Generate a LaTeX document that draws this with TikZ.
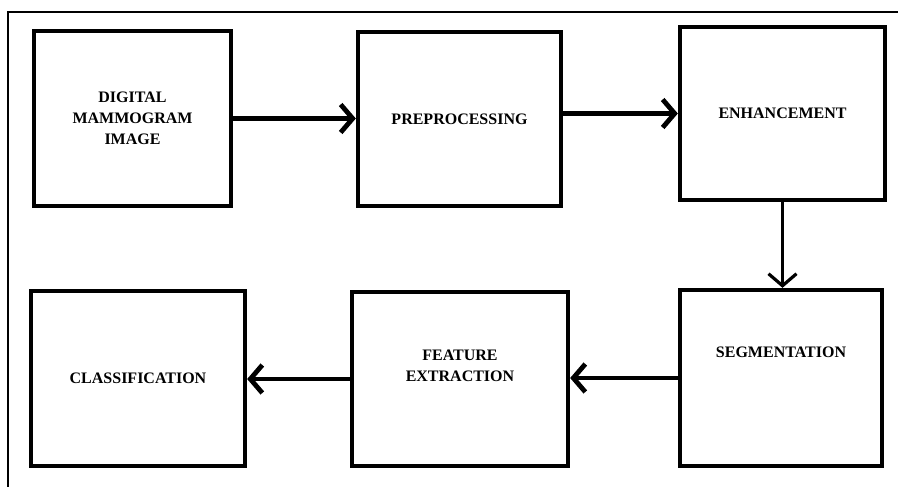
\documentclass[tikz,border=0pt]{standalone}
\usepackage{fontspec}
\setmainfont{Liberation Serif}
\usetikzlibrary{arrows.meta, positioning, calc}

\begin{document}
\begin{tikzpicture}[
    x=1pt, y=-1pt,
    stage/.style={rectangle, draw=black, line width=4.3pt, align=center, font=\fontsize{16}{21}\selectfont\bfseries, inner sep=0pt},
    arrow/.style={-{Straight Barb[length=12pt, width=28pt]}, line width=4.8pt},
    frameline/.style={line width=1.6pt}
]
\useasboundingbox (0,0) rectangle (898,487);

% Frame
\draw[frameline] (8,487) -- (8,12) -- (898,12);

% Top row
\node[stage, minimum width=197pt, minimum height=175pt] (mammo) at (132.5,118.5) {DIGITAL\\MAMMOGRAM\\IMAGE};
\node[stage, minimum width=203pt, minimum height=174pt] (preproc) at (459.5,119) {PREPROCESSING};
\node[stage, minimum width=205pt, minimum height=173pt] (enhance) at (782.5,113.5) {ENHANCEMENT};

% Bottom row
\node[stage, minimum width=202pt, minimum height=176pt, text depth=52pt] (segment) at (781,378) {SEGMENTATION};
\node[stage, minimum width=216pt, minimum height=174pt, text depth=26pt] (feature) at (460,379) {FEATURE\\EXTRACTION};
\node[stage, minimum width=214pt, minimum height=175pt] (classify) at (138,378.5) {CLASSIFICATION};

% Connections
\draw[arrow] (mammo.east) -- (mammo.east -| preproc.west);
\draw[arrow] (preproc.east |- enhance.west) -- (enhance.west);
\draw[arrow, line width=3.2pt] (enhance.south) -- (enhance.south |- segment.north);
\draw[arrow] (segment.west) -- (segment.west -| feature.east);
\draw[arrow] (feature.west) -- (feature.west -| classify.east);

\end{tikzpicture}
\end{document}
